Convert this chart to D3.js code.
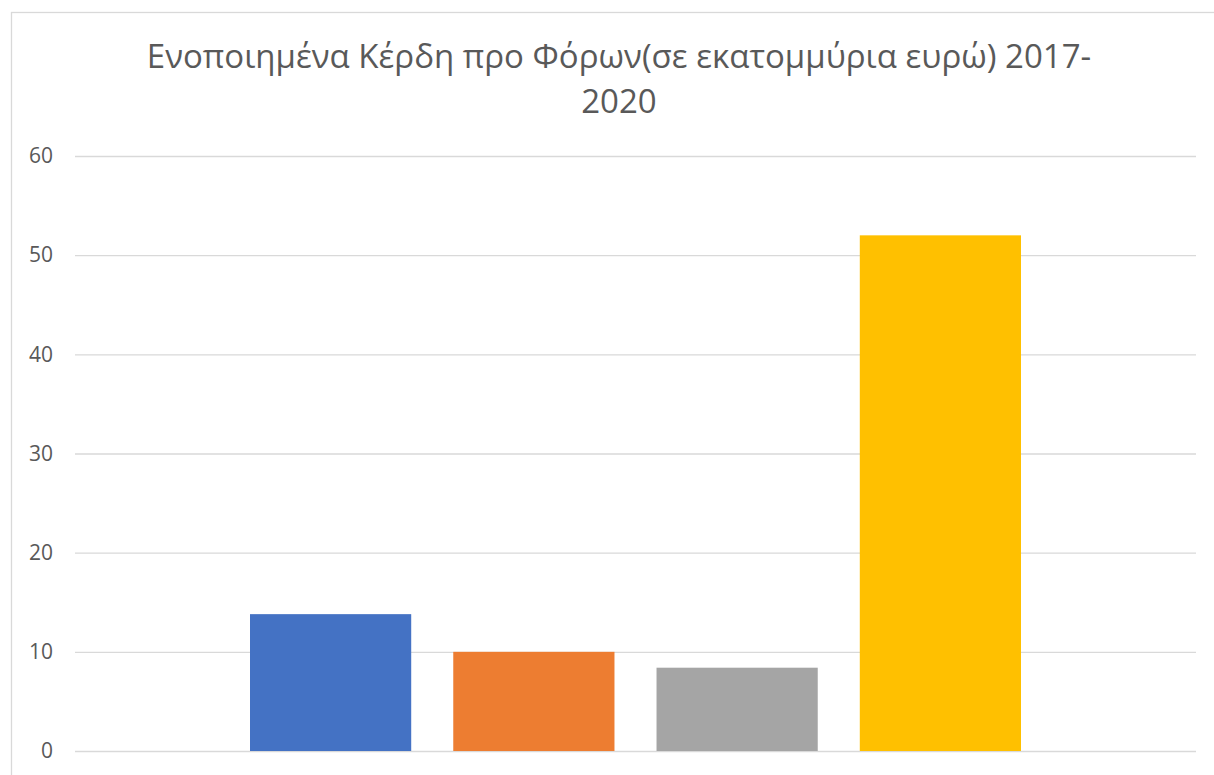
<!DOCTYPE html>
<html>
<head>
<meta charset="utf-8">
<script src="https://cdn.jsdelivr.net/npm/d3@7"></script>
<style>
  html, body { margin: 0; padding: 0; background: #fff; overflow: hidden; }
  svg { display: block; }
</style>
</head>
<body>
<svg id="chart" width="1214" height="775"></svg>
<script>
// Profit before tax (EUR millions), one bar per year
const years = ["2017", "2018", "2019", "2020"];
const profits = [13.8, 10.0, 8.4, 52.0];
const barColors = ["#4472c4", "#ed7d31", "#a5a5a5", "#ffc000"];
const yTicks = [0, 10, 20, 30, 40, 50, 60];
const titleLines = ["Ενοποιημένα Κέρδη προ Φόρων(σε εκατομμύρια ευρώ) 2017-", "2020"];

const svg = d3.select("#chart");
const W = 1214, H = 775;
const plot = { left: 75, right: 1196, top: 156, bottom: 751 };
const textColor = "#595959";
const font = "'Open Sans', 'Noto Sans', sans-serif";

// chart frame
svg.append("rect")
  .attr("x", 11.5).attr("y", 12.5)
  .attr("width", W + 20).attr("height", H + 20)
  .attr("fill", "#fff").attr("stroke", "#d9d9d9").attr("stroke-width", 1.3);

// title
const title = svg.append("text")
  .attr("text-anchor", "middle")
  .attr("fill", textColor)
  .style("font-family", font)
  .style("font-size", "33px");
title.selectAll("tspan").data(titleLines).join("tspan")
  .attr("x", 619)
  .attr("y", (d, i) => 68 + i * 45)
  .text(d => d);

const y = d3.scaleLinear().domain([0, 60]).range([plot.bottom, plot.top]);

// single category group, one bar per year inside it
const x = d3.scaleBand().domain(years)
  .range([250, 1021])
  .paddingInner(42 / 203)
  .paddingOuter(0);

// gridlines + y labels via axis
const yAxis = d3.axisLeft(y).tickValues(yTicks)
  .tickSize(-(plot.right - plot.left)).tickPadding(22);
const gy = svg.append("g")
  .attr("transform", `translate(${plot.left},0)`)
  .call(yAxis);
gy.select(".domain").remove();
gy.selectAll(".tick line").attr("stroke", "#d9d9d9").attr("stroke-width", 1.3);
gy.selectAll(".tick text")
  .attr("fill", textColor)
  .style("font-family", font)
  .style("font-size", "21px");

// bars
svg.append("g").selectAll("rect").data(years).join("rect")
  .attr("x", d => x(d))
  .attr("width", x.bandwidth())
  .attr("y", (d, i) => y(profits[i]))
  .attr("height", (d, i) => y(0) - y(profits[i]))
  .attr("fill", (d, i) => barColors[i]);
</script>
</body>
</html>
